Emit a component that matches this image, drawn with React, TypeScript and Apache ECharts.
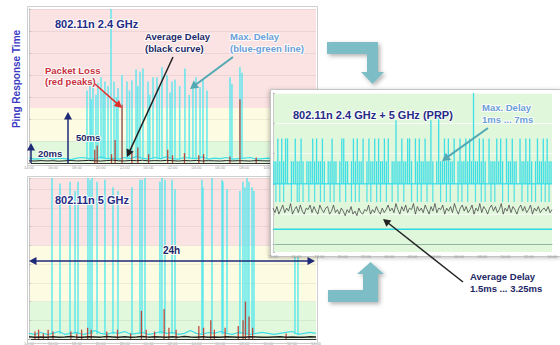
import React, { useEffect, useRef } from "react";
import * as echarts from "echarts";

const FONT = "'Liberation Sans', Arial, sans-serif";

// time axis (24 h, ticks every 2 h)
const timeTicks = ["14:00", "16:00", "18:00", "20:00", "22:00", "00:00", "02:00", "04:00", "06:00", "08:00", "10:00", "12:00", "14:00"];

// quality bands (ms): green < 20, yellow < 50, pink above
const bandEdges = [0, 20, 50, 200];
const bandColors = ["#e2f8dd", "#fdfbe1", "#fce3e3"];

// ---------- Panel 1: 802.11n 2.4 GHz ----------
const p1Base = [4.5, 3.5, 4, 5, 3.5, 4.5, 4, 3, 4.5, 5, 4, 3.5, 5.5, 4, 4.5, 3.5, 5, 4, 6, 4.5, 3.5, 5, 4, 5.5, 4, 3.5, 5, 4.5, 4, 5.5, 3.5, 4.5, 4, 5, 3.5, 4, 4.5, 5, 3.5, 4, 4.5, 3.5, 5, 4, 4.5, 3.5, 4, 5, 4];
const p1Avg = [2, 1.8, 2.2, 1.9, 2.1, 1.7, 2, 2.3, 1.9, 2.1, 2.4, 2, 1.8, 2.2, 2.6, 2, 1.9, 2.3, 2.1, 2.5, 1.9, 2.2, 2, 2.4, 2.1, 1.8, 2.2, 2, 2.3, 1.9, 2.1, 2, 1.8, 2.2, 1.9, 2.1, 2, 1.8, 2.2, 2, 1.9, 2.1, 2.3, 2, 1.8, 2.1, 2, 1.9, 2.1];
const p1SpikeHour = [4.85, 5.1, 5.2, 5.35, 5.6, 5.77, 6.02, 6.2, 6.35, 6.61, 6.86, 7.11, 7.3, 7.44, 7.78, 8.19, 8.4, 8.61, 8.95, 9.1, 9.28, 9.53, 9.95, 10.1, 10.37, 10.7, 10.9, 11.12, 11.54, 11.8, 11.96, 12.21, 12.6, 13.04, 13.4, 13.71, 13.96, 14.3, 14.55, 14.88, 16.81, 16.97, 17.64, 17.81];
const p1SpikeMs = [66, 74, 58, 78, 62, 73, 78, 64, 74, 70, 140, 74, 60, 68, 80, 74, 66, 75, 85, 70, 83, 86, 74, 62, 78, 78, 68, 87, 80, 64, 74, 76, 70, 86, 62, 71, 78, 69, 76, 66, 78, 72, 87, 82];
const p1LossHour = [5.5, 5.7, 6.9, 7.2, 7.78, 8.6, 9.1, 10.0, 11.6, 12.0, 13.0, 14.2, 14.6, 16.8, 17.64, 19.0];
const p1LossMs = [12, 16, 8, 21, 53, 9, 14, 8, 12, 7, 9, 7, 8, 6, 58, 5];

// ---------- Panel 2: 802.11n 5 GHz ----------
const p2Base = [3, 2.5, 3.5, 2.5, 3, 4, 2.5, 3, 3.5, 2.5, 3, 4.5, 3, 2.5, 3.5, 3, 4, 2.5, 3, 3.5, 2.5, 3, 4, 3, 3.5, 2.5, 3, 4.5, 3, 2.5, 3.5, 3, 4, 3, 2.5, 3.5, 3, 2.5, 3, 3.5, 3, 2.5, 3, 3.5, 4, 2.5, 3, 3.5, 3];
const p2Avg = [1.2, 1, 1.1, 0.9, 1.2, 1, 1.1, 1.3, 1, 0.9, 1.2, 1.1, 1, 1.3, 1.1, 0.9, 1.2, 1, 1.1, 1.3, 1, 1.2, 1.1, 0.9, 1.2, 1, 1.3, 1.1, 1, 1.2, 0.9, 1.1, 1, 1.2, 1.1, 0.9, 1, 1.2, 1.1, 1, 0.9, 1.1, 1.2, 1, 1.1, 0.9, 1, 1.2, 1.1];
const p2SpikeHour = [1.92, 2.59, 3.43, 3.85, 4.1, 4.93, 5.1, 5.27, 5.69, 6.35, 7.02, 7.44, 8.61, 9.28, 9.45, 9.7, 10.95, 11.12, 11.37, 11.96, 12.21, 14.46, 14.55, 15.3, 16.14, 16.22, 16.56, 17.64, 17.89, 18.06, 18.23, 18.39, 18.65, 18.81, 22.24, 22.49];
const p2SpikeMs = [86, 83, 84, 79, 84, 86, 85, 86, 84, 85, 81, 79, 81, 85, 85, 86, 84, 86, 85, 85, 80, 85, 81, 86, 85, 84, 80, 79, 84, 81, 86, 84, 81, 79, 44, 47];
const p2LossHour = [0.5, 0.8, 1.2, 1.6, 2.0, 3.5, 4.0, 4.4, 4.9, 5.2, 6.5, 7.4, 8.5, 9.4, 9.8, 10.5, 11.3, 11.7, 12.3, 14.2, 14.6, 15.2, 15.5, 16.4, 17.5, 17.9, 18.1, 18.4, 18.7, 21.5];
const p2LossMs = [4, 5, 3, 5, 4, 4, 3, 5, 6, 5, 4, 5, 3, 15, 5, 4, 16, 6, 5, 7, 6, 10, 5, 6, 7, 10, 20, 12, 6, 3];

// ---------- Panel 3: 2.4 GHz + 5 GHz (PRP), 10-minute slots ----------
const prpLevels = [1, 4]; // min delay line, max-delay resting level
const prpMax = [
  5.5, 5.5, 7, 5.5, 7, 5.5, 7, 7, 4, 5.5,
  5.5, 7, 5.5, 5.5, 7, 5.5, 4, 5.5, 5.5, 5.5,
  7, 5.5, 7, 5.5, 5.5, 7, 5.5, 4, 5.5, 5.5,
  7, 5.5, 5.5, 4, 5.5, 7, 7, 5.5, 5.5, 4,
  5.5, 7, 5.5, 7, 5.5, 5.5, 7, 4, 5.5, 7,
  5.5, 5.5, 7, 5.5, 7, 5.5, 5.5, 7, 5.5, 7,
  4, 5.5, 5.5, 8.2, 5.5, 5.5, 7, 5.5, 5.5, 7,
  7, 5.5, 4, 7, 5.5, 7, 5.5, 5.5, 7, 5.5,
  5.5, 8.2, 5.5, 4, 5.5, 8.7, 5.5, 5.5, 7, 5.5,
  7, 5.5, 5.5, 7, 4, 5.5, 7, 5.5, 5.5, 7,
  5.5, 7, 5.5, 10, 5.5, 5.5, 7, 5.5, 7, 5.5,
  4, 7, 5.5, 5.5, 5.5, 7, 5.5, 7, 5.5, 4,
  7, 5.5, 5.5, 7, 5.5, 5.5, 4, 7, 5.5, 5.5,
  7, 5.5, 7, 5.5, 4, 5.5, 7, 5.5, 5.5, 7,
  5.5, 7, 5.5, 5.5,
];
const prpDipSlots = [1, 3, 5, 9, 12, 13, 15, 18, 21, 24, 26, 29, 31, 34, 37, 40, 42, 44, 48, 50, 53, 55, 58, 61, 64, 67, 71, 74, 76, 79, 82, 86, 89, 91, 95, 97, 100, 104, 107, 109, 112, 114, 118, 121, 124, 128, 131, 133, 135, 138, 140, 142];
const prpDipMs = 2.8;
const prpAvg = [
  2.4, 2.1, 2.5, 2.0, 2.3, 2.6, 2.1, 2.4, 2.2, 2.7, 2.0, 2.3, 2.5, 2.1, 2.6, 2.2, 2.0, 2.4, 2.3, 2.6,
  2.1, 2.5, 2.2, 2.0, 2.6, 2.3, 2.1, 2.4, 2.5, 2.0, 2.2, 2.6, 2.1, 2.3, 2.0, 2.4, 2.2, 1.9, 2.3, 2.1,
  2.5, 2.0, 2.2, 1.9, 2.4, 2.1, 2.0, 2.3, 2.2, 2.6, 2.0, 2.3, 2.1, 2.5, 2.2, 2.0, 2.4, 2.1, 2.3, 2.6,
  2.2, 2.4, 2.1, 2.7, 2.3, 2.0, 2.5, 2.2, 2.6, 2.1, 2.4, 2.3, 2.7, 2.0, 2.5, 2.2, 2.4, 2.1, 2.6, 2.3,
  2.0, 2.5, 2.2, 2.7, 2.1, 2.4, 2.3, 2.6, 2.0, 2.4, 2.2, 2.5, 2.1, 2.7, 2.3, 2.0, 2.4, 2.6, 2.2, 2.5,
  2.1, 2.3, 2.6, 2.0, 2.4, 2.2, 2.7, 2.1, 2.5, 2.3, 2.0, 2.4, 2.6, 2.2, 2.5, 2.1, 2.3, 2.7, 2.0, 2.4,
  2.2, 2.6, 2.1, 2.5, 2.3, 2.0, 2.4, 2.6, 2.2, 2.5, 2.1, 2.3, 2.6, 2.0, 2.4, 2.2, 2.5, 2.1, 2.3, 2.4,
  2.2, 2.5, 2.1, 2.3,
];

const CYAN = "#3fdde6";
const SPIKE = "#48e6ee";
const NAVY = "#262c86";
const DARKNAVY = "#1d2766";

function bandAreas() {
  return bandColors.map((c, i) => [
    { yAxis: bandEdges[i], itemStyle: { color: c } },
    { yAxis: bandEdges[i + 1] },
  ]);
}

function lineSeries(idx: number, values: number[], color: string, z: number, width: number, extra: any = {}) {
  const n = values.length;
  return {
    type: "line", xAxisIndex: idx, yAxisIndex: idx, z, silent: true, symbol: "none",
    lineStyle: { color, width }, data: values.map((v, i) => [(i * 24) / (n - 1), v]), ...extra,
  };
}

// segments [x1, y1, x2, y2] drawn through the axes of grid idx
function segSeries(idx: number, segs: number[][], color: string, z: number, width = 1, opacity = 0.9) {
  return {
    type: "custom", coordinateSystem: "cartesian2d", xAxisIndex: idx, yAxisIndex: idx, z, silent: true,
    encode: { x: [0, 2], y: [1, 3] },
    data: segs,
    renderItem: (_p: any, api: any) => {
      const a = api.coord([api.value(0), api.value(1)]);
      const b = api.coord([api.value(2), api.value(3)]);
      return {
        type: "line",
        shape: { x1: a[0], y1: a[1], x2: b[0], y2: b[1] },
        style: { stroke: color, lineWidth: width, opacity },
      };
    },
  };
}

const vSegs = (hours: number[], from: number, to: number[]) => hours.map((h, i) => [h, from, h, to[i]]);
const slotHour = (i: number) => (i + 0.5) / 6;

function label(text: string, x: number, y: number, size: number, color: string, extra: any = {}) {
  return {
    type: "text", x, y, z: 30, silent: true,
    style: {
      text, fill: color, fontSize: size, fontWeight: "bold", fontFamily: FONT,
      align: "left", verticalAlign: "middle", lineHeight: size + 2,
      stroke: "rgba(255,255,255,0.9)", lineWidth: 2,
      shadowColor: "rgba(0,0,0,0.35)", shadowBlur: 1.5, shadowOffsetX: 1, shadowOffsetY: 1,
    },
    ...extra,
  };
}

function arrow(x1: number, y1: number, x2: number, y2: number, color: string, w: number, both = false) {
  const a = Math.atan2(y2 - y1, x2 - x1);
  const hl = 6 + w, hw = 2.5 + w;
  const c = Math.cos(a), s = Math.sin(a);
  const head = (x: number, y: number, cc: number, ss: number) => ({
    type: "polygon", z: 30, silent: true,
    shape: { points: [[x, y], [x - hl * cc + hw * ss, y - hl * ss - hw * cc], [x - hl * cc - hw * ss, y - hl * ss + hw * cc]] },
    style: { fill: color },
  });
  const els: any[] = [
    {
      type: "line", z: 30, silent: true,
      shape: { x1: both ? x1 + (hl - 1) * c : x1, y1: both ? y1 + (hl - 1) * s : y1, x2: x2 - (hl - 1) * c, y2: y2 - (hl - 1) * s },
      style: { stroke: color, lineWidth: w },
    },
    head(x2, y2, c, s),
  ];
  if (both) els.push(head(x1, y1, -c, -s));
  return els;
}

function blockArrow(points: number[][]) {
  return {
    type: "polygon", z: 3, silent: true, shape: { points },
    style: { fill: "#7dbdc5", shadowColor: "rgba(0,0,0,0.3)", shadowBlur: 4, shadowOffsetX: 2, shadowOffsetY: 2 },
  };
}

function buildOption() {
  const axisCommon = (i: number) => ({
    type: "value", gridIndex: i, min: 0, max: 24, interval: 2, z: i === 2 ? 6 : 1.5,
    axisLine: { show: true, lineStyle: { color: i === 2 ? "#8fb8a0" : "#333", width: 1 } },
    axisTick: { show: false }, splitLine: { show: false },
    axisLabel: { fontSize: 4, color: "#999", margin: 2, formatter: (v: number) => timeTicks[Math.round(v / 2)] },
  });
  const yCommon = (i: number, min: number, max: number, interval?: number) => ({
    type: "value", gridIndex: i, min, max, interval, z: i === 2 ? 6 : 1.5,
    axisLine: { show: true, lineStyle: { color: "#c9c9c9" } },
    axisTick: { show: true, inside: true, length: 2, lineStyle: { color: "#bbb" } },
    axisLabel: { show: false },
    splitLine: { show: true, lineStyle: { color: i === 2 ? "rgba(255,255,255,0.7)" : "rgba(0,0,0,0.06)" } },
  });

  const prpSpikeHours: number[] = [];
  const prpSpikeTops: number[] = [];
  prpMax.forEach((v, i) => {
    if (v > prpLevels[1]) { prpSpikeHours.push(slotHour(i)); prpSpikeTops.push(v); }
  });
  const dipHours = prpDipSlots.map(slotHour);

  const series: any[] = [
    // Panel 1
    { ...lineSeries(0, p1Base, CYAN, 2, 1.2), markArea: { silent: true, data: bandAreas() } },
    segSeries(0, vSegs(p1SpikeHour, 3.5, p1SpikeMs), SPIKE, 2, 1.6, 0.8),
    segSeries(0, vSegs(p1LossHour, 0, p1LossMs), "#c0392b", 2.2, 1.3, 0.9),
    lineSeries(0, p1Avg, "#222", 2.3, 1),
    // Panel 2
    { ...lineSeries(1, p2Base, CYAN, 2, 1.2), markArea: { silent: true, data: bandAreas() } },
    segSeries(1, vSegs(p2SpikeHour, 2.5, p2SpikeMs), SPIKE, 2, 1.6, 0.8),
    segSeries(1, vSegs(p2LossHour, 0, p2LossMs), "#c0392b", 2.2, 1.3, 0.9),
    lineSeries(1, p2Avg, "#222", 2.3, 1.5),
    // Panel 3
    segSeries(2, prpLevels.map((v) => [0, v, 24, v]), "#2fd8e2", 10, 1.4, 1),
    segSeries(2, vSegs(prpSpikeHours, prpLevels[1], prpSpikeTops), "#36dde6", 10, 1.3, 0.95),
    segSeries(2, vSegs(dipHours, prpLevels[1], dipHours.map(() => prpDipMs)), "#36dde6", 10, 1.2, 0.85),
    lineSeries(2, prpAvg, "#4a4a4a", 11, 0.8),
  ];

  const graphics: any[] = [
    // panel frames
    { type: "rect", z: 3, silent: true, shape: { x: 27.5, y: 6.5, width: 290, height: 159 }, style: { fill: "none", stroke: "#cfcfcf", lineWidth: 1 } },
    { type: "rect", z: 3, silent: true, shape: { x: 27.5, y: 176.5, width: 290, height: 167 }, style: { fill: "none", stroke: "#cfcfcf", lineWidth: 1 } },
    {
      type: "rect", z: 4, silent: true, shape: { x: 270.5, y: 89.5, width: 290, height: 167 },
      style: { fill: "#ffffff", stroke: "#c4c4c4", lineWidth: 1, shadowColor: "rgba(0,0,0,0.25)", shadowBlur: 4, shadowOffsetX: -1, shadowOffsetY: 1 },
    },
    // block arrows
    blockArrow([[327, 42], [378, 42], [378, 72], [384, 72], [372.5, 84], [361, 72], [367, 72], [367, 54], [327, 54]]),
    blockArrow([[328, 290], [363, 290], [363, 274], [357, 274], [370.5, 262], [384, 274], [378, 274], [378, 302], [328, 302]]),
    // texts
    {
      type: "text", x: 16, y: 79, rotation: Math.PI / 2, z: 30, silent: true,
      style: { text: "Ping Response Time", fill: "#3a3ac4", fontSize: 10, fontWeight: "bold", fontFamily: FONT, align: "center", verticalAlign: "middle" },
    },
    label("802.11n 2.4 GHz", 55, 24, 11, NAVY),
    label("Average Delay\n(black curve)", 145, 42.5, 9.5, DARKNAVY),
    label("Max. Delay\n(blue-green line)", 230, 42.5, 9.5, "#6a9fd8"),
    label("Packet Loss\n(red peaks)", 45, 76, 9.5, "#c8303e"),
    label("50ms", 76, 137, 9.5, DARKNAVY),
    label("20ms", 38, 153, 9.5, DARKNAVY),
    label("802.11n 5 GHz", 55, 200, 11, NAVY),
    label("24h", 163, 250, 10, DARKNAVY),
    label("802.11n 2.4 GHz + 5 GHz (PRP)", 293, 115, 11, NAVY),
    label("Max. Delay\n1ms ... 7ms", 482, 113.5, 9.5, "#6a9fd8"),
    label("Average Delay\n1.5ms ... 3.25ms", 470, 282.5, 9.5, DARKNAVY),
    // arrows
    ...arrow(95, 84, 122, 108, "#e0302c", 1.5),
    ...arrow(173, 57, 127, 157, "#222222", 1.5),
    ...arrow(233, 57, 190, 89, "#52a9b4", 2),
    ...arrow(68, 163, 68, 112, "#1e2a78", 1.5),
    ...arrow(31, 163, 31, 143, "#1e2a78", 1.5),
    ...arrow(29, 261, 315, 261, "#1e2a78", 1.5, true),
    ...arrow(488, 128, 442, 161, "#52a9b4", 2),
    ...arrow(463, 282, 383, 219, "#222222", 1.5),
  ];

  return {
    animation: false,
    textStyle: { fontFamily: FONT },
    grid: [
      { left: 29, top: 9, width: 287, height: 154, show: false },
      { left: 29, top: 178, width: 287, height: 163, show: false },
      { left: 273, top: 93, width: 285, height: 159, show: true, backgroundColor: "#e1f7dc", borderWidth: 0, z: 5 },
    ],
    xAxis: [axisCommon(0), axisCommon(1), axisCommon(2)],
    yAxis: [yCommon(0, 0, 140, 20), yCommon(1, 0, 86, 10), yCommon(2, -0.5, 10)],
    series,
    graphic: { elements: graphics },
  };
}

export default function App() {
  const ref = useRef<HTMLDivElement>(null);
  useEffect(() => {
    if (!ref.current) return;
    const chart = echarts.init(ref.current, undefined, { renderer: "svg" });
    chart.setOption(buildOption() as any);
    return () => chart.dispose();
  }, []);
  return <div ref={ref} style={{ position: "absolute", left: 0, top: 0, width: 560, height: 345, background: "#fff" }} />;
}
